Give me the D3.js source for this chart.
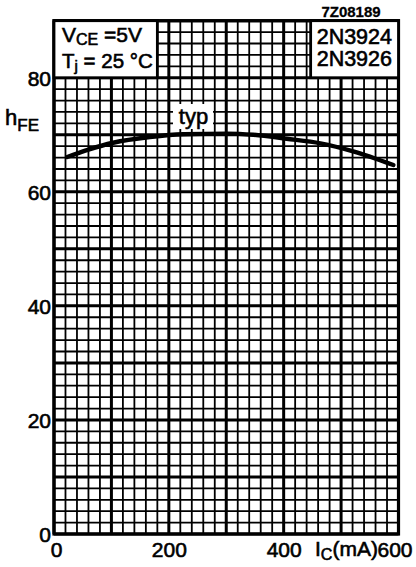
<!DOCTYPE html>
<html>
<head>
<meta charset="utf-8">
<script src="https://cdn.jsdelivr.net/npm/d3@7"></script>
<style>
  body { margin: 0; background: #fff; }
  svg text { font-family: "Liberation Sans", Arial, sans-serif; fill: #000; }
</style>
</head>
<body>
<div id="chart"></div>
<script>
// collector current (mA) and typical hFE
const ic_values = [23, 60, 103, 167, 225, 301, 347, 405, 464, 521, 591];
const hfe_values = [66.1, 67.4, 68.6, 69.6, 70.1, 70.2, 70.0, 69.3, 68.5, 67.1, 64.7];

const x_ticks = [0, 200, 400, 600];
const y_ticks = [0, 20, 40, 60, 80];
const x_minor_step = 20, x_major_step = 100;
const y_minor_step = 2, y_major_step = 10;

const width = 416, height = 567;
const txt_stroke = 0.6;

let svg = d3.select('#chart').append('svg')
    .attr('width', width)
    .attr('height', height);

let x = d3.scaleLinear().domain([0, 600]).range([54, 398.5]);
let y = d3.scaleLinear().domain([0, 90]).range([534, 20.7]);

// grid
let grid = svg.append('g').attr('class', 'grid');
for (let v = 0; v <= 600; v += x_minor_step) {
    let major = v % x_major_step === 0;
    grid.append('line')
        .attr('x1', x(v)).attr('x2', x(v))
        .attr('y1', y(0)).attr('y2', y(90))
        .attr('stroke', '#000')
        .attr('stroke-width', major ? 3 : 1.8);
}
for (let v = 0; v <= 90; v += y_minor_step) {
    let major = v % y_major_step === 0;
    grid.append('line')
        .attr('x1', x(0)).attr('x2', x(600))
        .attr('y1', y(v)).attr('y2', y(v))
        .attr('stroke', '#000')
        .attr('stroke-width', major ? 3 : 1.8);
}

// frame
svg.append('rect')
    .attr('x', x(0)).attr('y', y(90))
    .attr('width', x(600) - x(0)).attr('height', y(0) - y(90))
    .attr('fill', 'none').attr('stroke', '#000').attr('stroke-width', 3.2);

// label boxes (white patches over the grid)
svg.append('rect')
    .attr('x', x(0)).attr('y', y(90))
    .attr('width', x(180) - x(0)).attr('height', y(80) - y(90))
    .attr('fill', '#fff').attr('stroke', '#000').attr('stroke-width', 2.8);
svg.append('rect')
    .attr('x', x(447)).attr('y', y(90))
    .attr('width', x(600) - x(447)).attr('height', y(80) - y(90))
    .attr('fill', '#fff').attr('stroke', '#000').attr('stroke-width', 2.8);

let t1 = svg.append('text').attr('x', 62).attr('y', 42).attr('font-size', 21)
    .attr('stroke', '#000').attr('stroke-width', txt_stroke);
t1.append('tspan').text('V');
t1.append('tspan').attr('font-size', 16).attr('dy', 3).text('CE');
t1.append('tspan').attr('dy', -3).text(' =5V');

let t2 = svg.append('text').attr('x', 62).attr('y', 68).attr('font-size', 20.5)
    .attr('stroke', '#000').attr('stroke-width', txt_stroke);
t2.append('tspan').text('T');
t2.append('tspan').attr('font-size', 15).attr('dy', 3).text('j');
t2.append('tspan').attr('dy', -3).text(' = 25 \u00B0C');

svg.append('text').attr('x', 392).attr('y', 43.5).attr('text-anchor', 'end')
    .attr('font-size', 21.5).attr('stroke', '#000').attr('stroke-width', txt_stroke).text('2N3924');
svg.append('text').attr('x', 392).attr('y', 65.5).attr('text-anchor', 'end')
    .attr('font-size', 21.5).attr('stroke', '#000').attr('stroke-width', txt_stroke).text('2N3926');
svg.append('text').attr('x', 351).attr('y', 17).attr('text-anchor', 'middle')
    .attr('font-size', 15).attr('font-weight', 'bold').attr('stroke', '#000').attr('stroke-width', 0.3)
    .text('7Z08189');

// curve
let line = d3.line()
    .x((d, i) => x(ic_values[i]))
    .y(d => y(d))
    .curve(d3.curveMonotoneX);
svg.append('path')
    .datum(hfe_values)
    .attr('d', line)
    .attr('fill', 'none')
    .attr('stroke', '#000')
    .attr('stroke-width', 4.4)
    .attr('stroke-linecap', 'round');

// "typ" label with white patch
svg.append('rect')
    .attr('x', 173).attr('y', 104).attr('width', 40).attr('height', 25)
    .attr('fill', '#fff');
svg.append('text').attr('x', 193.5).attr('y', 124).attr('text-anchor', 'middle')
    .attr('font-size', 22).attr('stroke', '#000').attr('stroke-width', txt_stroke).text('typ');

// axes
let y_axis = d3.axisLeft(y).tickValues(y_ticks).tickSize(0).tickPadding(3);
let gy = svg.append('g').attr('transform', 'translate(' + x(0) + ',0)').call(y_axis);
gy.select('.domain').remove();
gy.selectAll('text')
    .attr('font-size', 21)
    .attr('font-family', '"Liberation Sans", Arial, sans-serif')
    .attr('stroke', '#000').attr('stroke-width', txt_stroke)
    .attr('dy', '0.36em');

let x_axis = d3.axisBottom(x).tickValues(x_ticks).tickSize(0).tickPadding(8);
let gx = svg.append('g').attr('transform', 'translate(0,' + y(0) + ')').call(x_axis);
gx.select('.domain').remove();
gx.selectAll('text')
    .attr('font-size', 21)
    .attr('font-family', '"Liberation Sans", Arial, sans-serif')
    .attr('stroke', '#000').attr('stroke-width', txt_stroke)
    .attr('dx', d => d === 0 ? 2 : (d === 600 ? -4 : 0));

// axis titles
let xt = svg.append('text').attr('x', 315).attr('y', 556).attr('font-size', 21)
    .attr('stroke', '#000').attr('stroke-width', txt_stroke);
xt.append('tspan').text('I');
xt.append('tspan').attr('font-size', 16).attr('dy', 4).text('C');
xt.append('tspan').attr('dy', -4).text('(mA)');

let yt = svg.append('text').attr('x', 5).attr('y', 125).attr('font-size', 22)
    .attr('stroke', '#000').attr('stroke-width', txt_stroke);
yt.append('tspan').text('h');
yt.append('tspan').attr('font-size', 17).attr('dy', 6).text('FE');
</script>
</body>
</html>
